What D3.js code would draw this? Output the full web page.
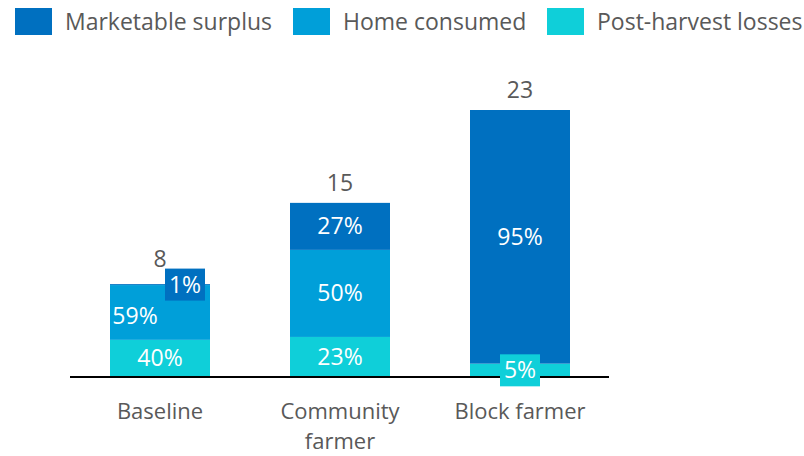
<!DOCTYPE html>
<html>
<head>
<meta charset="utf-8">
<script src="https://cdn.jsdelivr.net/npm/d3@7"></script>
<style>
  html, body { margin: 0; padding: 0; background: #fff; }
  svg { display: block; font-family: "Open Sans", "Noto Sans", sans-serif; }
</style>
</head>
<body>
<svg id="chart" width="804" height="456"></svg>
<script>
// Farm output by farmer type: total volume and how it is used (% of total)
const categories = ["Baseline", "Community farmer", "Block farmer"];
const categoryLines = [["Baseline"], ["Community", "farmer"], ["Block farmer"]];
const totals = [8, 15, 23];
const seriesNames = ["Post-harvest losses", "Home consumed", "Marketable surplus"];
const lossesPct = [40, 23, 5];
const homePct = [59, 50, 0];
const marketablePct = [1, 27, 95];
const legendOrder = ["Marketable surplus", "Home consumed", "Post-harvest losses"];
const colors = {
  "Marketable surplus": "#0070C0",
  "Home consumed": "#009FD9",
  "Post-harvest losses": "#0FCFD9"
};

const svg = d3.select("#chart");
const textColor = "#595959";
const fontSize = 23;

const x = d3.scaleBand()
  .domain(categories)
  .range([70, 610])
  .paddingInner(80 / 180)
  .paddingOuter(40 / 180);

const y = d3.scaleLinear().domain([0, 23]).range([377, 110]);

// Stack rows: values are shares of each category's total volume
const rows = categories.map((c, i) => ({
  category: c,
  total: totals[i],
  "Post-harvest losses": totals[i] * lossesPct[i] / 100,
  "Home consumed": totals[i] * homePct[i] / 100,
  "Marketable surplus": totals[i] * marketablePct[i] / 100,
  pct: {
    "Post-harvest losses": lossesPct[i],
    "Home consumed": homePct[i],
    "Marketable surplus": marketablePct[i]
  }
}));

const stacked = d3.stack().keys(seriesNames)(rows);

// Bars
const layers = svg.append("g").selectAll("g")
  .data(stacked)
  .join("g")
  .attr("fill", d => colors[d.key]);

layers.selectAll("rect")
  .data(d => d.map(s => ({ key: d.key, s })))
  .join("rect")
  .attr("x", d => x(d.s.data.category))
  .attr("width", x.bandwidth())
  .attr("y", d => y(d.s[1]))
  .attr("height", d => Math.max(0, y(d.s[0]) - y(d.s[1])));

// Axis baseline
svg.append("line")
  .attr("x1", 70).attr("x2", 609)
  .attr("y1", y(0)).attr("y2", y(0))
  .attr("stroke", "#000").attr("stroke-width", 2);

// Segment labels: thin segments get a filled tag so the text stays legible
const labelG = svg.append("g")
  .attr("font-size", fontSize)
  .attr("fill", "#fff")
  .attr("text-anchor", "middle");

const tagTop = {}; // highest tag edge per category, used to lift the total label
stacked.forEach((layer, li) => {
  layer.forEach(s => {
    const row = s.data;
    const p = row.pct[layer.key];
    if (!p) return;
    const top = y(s[1]), bottom = y(s[0]);
    const h = bottom - top;
    const cx = x(row.category) + x.bandwidth() / 2;
    let lx = cx, ly = (top + bottom) / 2;
    const thin = h < 24;
    if (thin && li === seriesNames.length - 1) {
      lx = cx + 25;
    }
    // a label below a nudged tag moves aside
    const above = stacked[li + 1];
    if (!thin && above) {
      const sAbove = above.find(a => a.data === row);
      const hAbove = y(sAbove[0]) - y(sAbove[1]);
      if (row.pct[above.key] && hAbove < 24 && li + 1 === seriesNames.length - 1) {
        lx = cx - 25;
        ly = (top + bottom) / 2 + 3;
      }
    }
    if (thin) {
      labelG.append("rect")
        .attr("x", lx - 20).attr("y", ly - 16)
        .attr("width", 40).attr("height", 32)
        .attr("fill", colors[layer.key]);
      tagTop[row.category] = Math.min(tagTop[row.category] ?? Infinity, ly - 16);
    }
    labelG.append("text")
      .attr("x", lx).attr("y", ly)
      .attr("dy", "0.35em")
      .text(p + "%");
  });
});

// Totals above bars (or above a tag that sticks out of the bar top)
svg.append("g")
  .attr("font-size", fontSize)
  .attr("fill", textColor)
  .attr("text-anchor", "middle")
  .selectAll("text")
  .data(rows)
  .join("text")
  .attr("x", d => x(d.category) + x.bandwidth() / 2)
  .attr("y", d => Math.min(y(d.total) - 12, (tagTop[d.category] ?? Infinity) - 2))
  .text(d => d.total);

// Category labels
const catG = svg.append("g")
  .attr("font-size", 22)
  .attr("fill", textColor)
  .attr("text-anchor", "middle");
categories.forEach((c, i) => {
  const t = catG.append("text")
    .attr("x", x(c) + x.bandwidth() / 2)
    .attr("y", 419);
  categoryLines[i].forEach((line, j) => {
    t.append("tspan")
      .attr("x", x(c) + x.bandwidth() / 2)
      .attr("dy", j === 0 ? 0 : 30)
      .text(line);
  });
});

// Legend
const legendX = [15, 293, 547];
const legend = svg.append("g").attr("font-size", fontSize).attr("fill", textColor);
legendOrder.forEach((name, i) => {
  legend.append("rect")
    .attr("x", legendX[i]).attr("y", 8)
    .attr("width", 37).attr("height", 27)
    .attr("fill", colors[name]);
  legend.append("text")
    .attr("x", legendX[i] + 50).attr("y", 30)
    .text(name);
});
</script>
</body>
</html>
